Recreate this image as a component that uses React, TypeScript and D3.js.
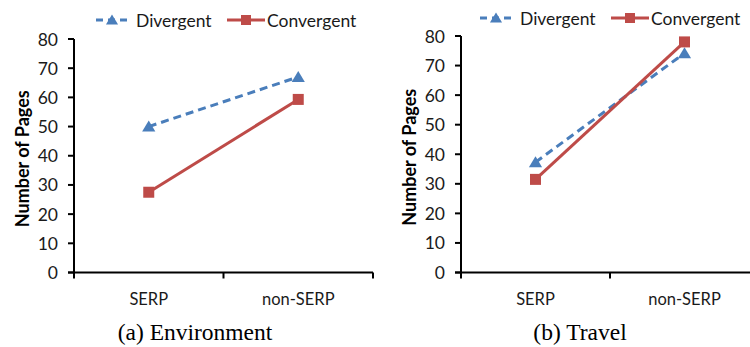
import React from 'react';
import * as d3 from 'd3';

const categories = ['SERP', 'non-SERP'];
const yTicks = [0, 10, 20, 30, 40, 50, 60, 70, 80];

const envDivergent = [50, 67];
const envConvergent = [27.5, 59.3];
const travelDivergent = [37.3, 74.2];
const travelConvergent = [31.5, 78];

const BLUE = '#4A7EBB';
const RED = '#BE4B48';
const FONT = 'Lato, "Open Sans", sans-serif';

const Triangle = ({ x, y, s = 12 }) => (
  <path d={`M${x},${y - s * 0.5}L${x + s * 0.55},${y + s * 0.42}L${x - s * 0.55},${y + s * 0.42}Z`} fill={BLUE} />
);
const Square = ({ x, y, s = 11 }) => (
  <rect x={x - s / 2} y={y - s / 2} width={s} height={s} fill={RED} />
);

const Panel = ({ x0, x1, yTop, yBottom, divergent, convergent, legendX, legendY, caption, captionX }) => {
  const xScale = d3.scaleBand().domain(categories).range([x0, x1]);
  const yScale = d3.scaleLinear().domain([0, 80]).range([yBottom, yTop]);
  const cx = (c) => xScale(c) + xScale.bandwidth() / 2;
  const line = d3.line().x((d, i) => cx(categories[i])).y((d) => yScale(d));
  const boundaries = [x0, x0 + xScale.bandwidth(), x1];

  return (
    <g>
      {/* legend */}
      <g transform={`translate(${legendX},${legendY})`} fontFamily={FONT} fontSize={17.5} fill="#1a1a1a">
        <line x1={0} x2={34} y1={0} y2={0} stroke={BLUE} strokeWidth={3} strokeDasharray="7,5" />
        <Triangle x={16} y={0} s={11} />
        <text x={40} y={0} dominantBaseline="central">Divergent</text>
        <line x1={131} x2={169} y1={0} y2={0} stroke={RED} strokeWidth={3} />
        <Square x={150} y={0} s={10} />
        <text x={171} y={0} dominantBaseline="central">Convergent</text>
      </g>

      {/* y axis */}
      <line x1={x0} x2={x0} y1={yTop} y2={yBottom} stroke="#000" strokeWidth={2} />
      {yTicks.map((t) => (
        <g key={t}>
          <line x1={x0 - 6} x2={x0} y1={yScale(t)} y2={yScale(t)} stroke="#000" strokeWidth={2} />
          <text x={x0 - 16} y={yScale(t)} textAnchor="end" dominantBaseline="central" fontFamily={FONT} fontSize={17.5} fill="#1a1a1a">{t}</text>
        </g>
      ))}
      <text
        transform={`translate(${x0 - 52},${(yTop + yBottom) / 2 + 3}) rotate(-90)`}
        textAnchor="middle" dominantBaseline="central" fontFamily={FONT} fontSize={18} fontWeight="bold" fill="#000"
      >Number of Pages</text>

      {/* x axis */}
      <line x1={x0 - 6} x2={x1} y1={yBottom} y2={yBottom} stroke="#000" strokeWidth={2} />
      {boundaries.map((b, i) => (
        <line key={i} x1={b} x2={b} y1={yBottom} y2={yBottom + 6} stroke="#000" strokeWidth={2} />
      ))}
      {categories.map((c) => (
        <text key={c} x={cx(c)} y={yBottom + 26} textAnchor="middle" dominantBaseline="central" fontFamily={FONT} fontSize={16.5} fill="#1a1a1a">{c}</text>
      ))}

      {/* series */}
      <path d={line(divergent)} fill="none" stroke={BLUE} strokeWidth={3} strokeDasharray="8,5" />
      <path d={line(convergent)} fill="none" stroke={RED} strokeWidth={3} />
      {divergent.map((v, i) => <Triangle key={i} x={cx(categories[i])} y={yScale(v)} />)}
      {convergent.map((v, i) => <Square key={i} x={cx(categories[i])} y={yScale(v)} />)}

      <text x={captionX} y={yBottom + 59} textAnchor="middle" dominantBaseline="central" fontFamily='"Liberation Serif", "DejaVu Serif", serif' fontSize={23.5} fill="#000">{caption}</text>
    </g>
  );
};

export default function App() {
  return (
    <div style={{ position: 'absolute', left: 0, top: 0 }}>
      <svg width={750} height={347} style={{ display: 'block', background: '#fff' }}>
        <Panel x0={74} x1={373} yTop={39} yBottom={272.5}
          divergent={envDivergent} convergent={envConvergent}
          legendX={96} legendY={20} caption="(a)  Environment" captionX={195} />
        <Panel x0={461} x1={759} yTop={36} yBottom={272.5}
          divergent={travelDivergent} convergent={travelConvergent}
          legendX={480} legendY={18} caption="(b)  Travel" captionX={580} />
      </svg>
    </div>
  );
}
